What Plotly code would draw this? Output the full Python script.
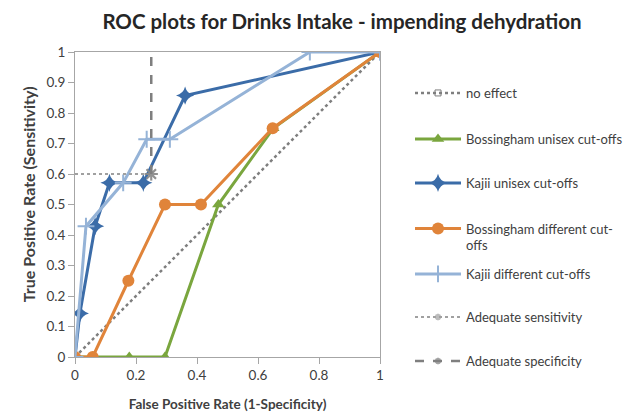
import plotly.graph_objects as go


# diagonal reference
no_effect_x = [0, 1]
no_effect_y = [0, 1]

bos_uni_x = [0, 0.06, 0.178, 0.295, 0.47, 0.65, 1]
bos_uni_y = [0, 0, 0, 0, 0.5, 0.75, 1]

kaj_uni_x = [0, 0.016, 0.066, 0.113, 0.224, 0.361, 1]
kaj_uni_y = [0, 0.143, 0.429, 0.571, 0.571, 0.857, 1]

bos_diff_x = [0, 0.058, 0.175, 0.295, 0.413, 0.648, 1]
bos_diff_y = [0, 0, 0.25, 0.5, 0.5, 0.75, 1]

kaj_diff_x = [0, 0.036, 0.158, 0.235, 0.311, 0.77, 1]
kaj_diff_y = [0, 0.429, 0.571, 0.714, 0.714, 1, 1]

sens_x = [0, 0.25]
sens_y = [0.6, 0.6]

spec_x = [0.25, 0.25]
spec_y = [0.6, 1]

FONT = "Lato"
GREY = "#7f7f7f"
TXT = "#404040"

# the page body has an 8px margin, so the figure is drawn 8px smaller
W, H = 625, 411


fig = go.Figure()


fig.add_trace(
    go.Scatter(
        x=no_effect_x,
        y=no_effect_y,
        mode="lines+markers",
        name="no effect",
        legend="legend",
        line=dict(color=GREY, width=2.5, dash="dot"),
        marker=dict(symbol="square-open", size=6, color=GREY)
    )
)

fig.add_trace(
    go.Scatter(
        x=bos_uni_x,
        y=bos_uni_y,
        mode="lines+markers",
        name="Bossingham unisex cut-offs",
        legend="legend2",
        line=dict(color="#7aa63e", width=3),
        marker=dict(symbol="triangle-up", size=11, color="#7aa63e")
    )
)

fig.add_trace(
    go.Scatter(
        x=kaj_uni_x,
        y=kaj_uni_y,
        mode="lines+markers",
        name="Kajii unisex cut-offs",
        legend="legend3",
        line=dict(color="#3b6ca8", width=3),
        marker=dict(symbol="star-diamond", size=13, color="#3b6ca8")
    )
)

fig.add_trace(
    go.Scatter(
        x=bos_diff_x,
        y=bos_diff_y,
        mode="lines+markers",
        name="Bossingham different cut-<br>offs",
        legend="legend4",
        line=dict(color="#e0843a", width=3),
        marker=dict(symbol="circle", size=12, color="#e0843a")
    )
)

fig.add_trace(
    go.Scatter(
        x=kaj_diff_x,
        y=kaj_diff_y,
        mode="lines+markers",
        name="Kajii different cut-offs",
        legend="legend5",
        line=dict(color="#95b3d7", width=3),
        marker=dict(symbol="cross-thin-open", size=12,
                    line=dict(color="#95b3d7", width=2))
    )
)

fig.add_trace(
    go.Scatter(
        x=sens_x,
        y=sens_y,
        mode="lines+markers",
        name="Adequate sensitivity",
        legend="legend6",
        line=dict(color="#a0a0a0", width=2, dash="dot"),
        marker=dict(symbol="asterisk-open", size=[0, 11],
                    line=dict(color=GREY, width=2))
    )
)

fig.add_trace(
    go.Scatter(
        x=spec_x,
        y=spec_y,
        mode="lines+markers",
        name="Adequate specificity",
        legend="legend7",
        line=dict(color=GREY, width=2.5, dash="dash"),
        marker=dict(symbol="asterisk-open", size=[11, 0],
                    line=dict(color=GREY, width=2))
    )
)


axis_style = dict(
    range=[0, 1],
    showgrid=False,
    zeroline=False,
    showline=True,
    linecolor="#a6a6a6",
    linewidth=1,
    mirror=True,
    ticks="outside",
    ticklen=6,
    tickcolor="#a6a6a6",
    automargin=False,
    tickfont=dict(family=FONT, size=13.5, color=TXT),
)

fig.update_xaxes(
    axis_style,
    tickvals=[0, 0.2, 0.4, 0.6, 0.8, 1],
    ticktext=["0", "0.2", "0.4", "0.6", "0.8", "1"],
    title=dict(text="<b>False Positive Rate (1-Specificity)</b>",
               font=dict(family=FONT, size=13.5, color=TXT),
               standoff=17)
)

fig.update_yaxes(
    axis_style,
    tickvals=[0, 0.1, 0.2, 0.3, 0.4, 0.5, 0.6, 0.7, 0.8, 0.9, 1],
    ticktext=["0", "0.1", "0.2", "0.3", "0.4", "0.5", "0.6", "0.7", "0.8", "0.9", "1"],
)

fig.add_annotation(
    text="<b>True Positive Rate (Sensitivity)</b>",
    textangle=-90,
    xref="paper",
    yref="paper",
    x=-0.154,
    y=0.534,
    xanchor="center",
    yanchor="middle",
    showarrow=False,
    font=dict(family=FONT, size=16, color=TXT)
)


# one small legend per series so each row sits where it does in the original
leg_rows = [0.7932, 0.6813, 0.5742, 0.4428, 0.3528, 0.2482, 0.1411]
leg_names = ["legend", "legend2", "legend3", "legend4",
             "legend5", "legend6", "legend7"]

legends = {}
for name, ypos in zip(leg_names, leg_rows):
    legends[name] = dict(
        x=0.6432,
        y=ypos,
        xref="container",
        yref="container",
        xanchor="left",
        yanchor="middle",
        itemwidth=46,
        valign="top",
        font=dict(family=FONT, size=13, color=TXT),
        bgcolor="rgba(0,0,0,0)"
    )


fig.update_layout(
    width=W,
    height=H,
    title=dict(
        text="<b>ROC plots for Drinks Intake - impending dehydration</b>",
        x=0.5344,
        xanchor="center",
        y=0.966,
        yanchor="middle",
        font=dict(family=FONT, size=20.5, color="#262626")
    ),
    margin=dict(l=67, r=253, t=44, b=62),
    paper_bgcolor="white",
    plot_bgcolor="white",
    showlegend=True,
    **legends
)


fig.write_html("out.html")
